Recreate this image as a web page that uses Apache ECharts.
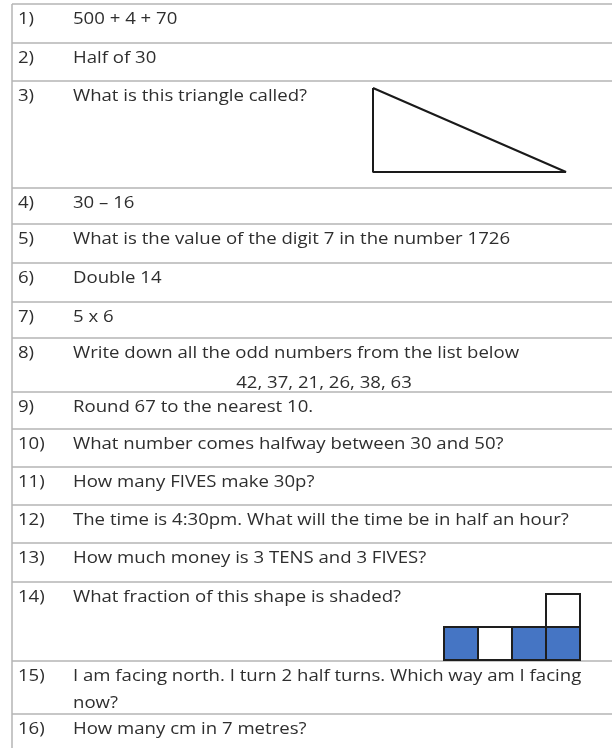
<html>
  <head>
    <meta charset="utf-8">
    <title>Worksheet</title>
    <script src="https://cdn.jsdelivr.net/npm/echarts@6.0.0/dist/echarts.min.js"></script>
    <style>
      html, body { margin: 0; padding: 0; background: #fff; }
      #main { width: 612px; height: 748px; }
    </style>
  </head>
  <body>
    <div id="main"></div>
    <script type="text/javascript">
        // question numbers and texts
        var questionNo = ['1)', '2)', '3)', '4)', '5)', '6)', '7)', '8)',
          '9)', '10)', '11)', '12)', '13)', '14)', '15)', '16)'];
        var questionText = [
          '500 + 4 + 70',
          'Half of 30',
          'What is this triangle called?',
          '30 \u2013 16',
          'What is the value of the digit 7 in the number 1726',
          'Double 14',
          '5 x 6',
          'Write down all the odd numbers from the list below',
          'Round 67 to the nearest 10.',
          'What number comes halfway between 30 and 50?',
          'How many FIVES make 30p?',
          'The time is 4:30pm. What will the time be in half an hour?',
          'How much money is 3 TENS and 3 FIVES?',
          'What fraction of this shape is shaded?',
          'I am facing north. I turn 2 half turns. Which way am I facing',
          'How many cm in 7 metres?'
        ];
        // second lines: [question index, text, centred?]
        var secondLines = [
          [7, '42, 37, 21, 26, 38, 63', true],
          [14, 'now?', false]
        ];
        // y of the row rules (page units)
        var rowEdges = [4, 43, 81, 188, 224, 263, 302, 338, 392, 429, 467, 505, 543, 582, 661, 714, 760];
        // right-angled triangle of question 3
        var triangle = [[373, 88], [373, 172], [566, 172], [373, 88]];
        // shape of question 14: [column, level, shaded]
        var shapeCells = [[0, 0, 1], [1, 0, 0], [2, 0, 1], [3, 0, 1], [3, 1, 0]];

        var FONT = '16px "Open Sans", Lato, sans-serif';
        var TEXT = '#2e2e2e';

        // stretch the type a little so line 5 spans the same width as the scan
        var ctx = document.createElement('canvas').getContext('2d');
        ctx.font = FONT;
        var SX = 437 / ctx.measureText(questionText[4]).width;

        function label(txt, p, align) {
          return {
            type: 'text', x: p[0], y: p[1], scaleX: SX,
            style: { text: txt, x: 0, y: 0, font: FONT, fill: TEXT, align: align || 'left', verticalAlign: 'middle' }
          };
        }

        var chartDom = document.getElementById('main');
        var myChart = echarts.init(chartDom);
        var option;

        option = {
          animation: false,
          grid: { left: 0, right: 0, top: 0, bottom: 0 },
          xAxis: { type: 'value', min: 0, max: 612, show: false },
          yAxis: { type: 'value', min: 0, max: 748, inverse: true, show: false },
          series: [
            {
              // horizontal rules
              type: 'custom',
              data: rowEdges.slice(0, -1),
              renderItem: function (params, api) {
                var y = api.value(0);
                var a = api.coord([12, y]);
                var b = api.coord([612, y]);
                return {
                  type: 'line',
                  shape: { x1: a[0], y1: a[1], x2: b[0], y2: b[1] },
                  style: { stroke: '#b4b4b4', lineWidth: 1.5 }
                };
              }
            },
            {
              // left border
              type: 'line',
              data: [[12, 4], [12, 748]],
              symbol: 'none',
              lineStyle: { color: '#b4b4b4', width: 1.5 }
            },
            {
              // numbers and question texts
              type: 'custom',
              data: questionText.map(function (t, i) { return [i, rowEdges[i]]; }),
              renderItem: function (params, api) {
                var i = api.value(0);
                var top = api.value(1);
                return {
                  type: 'group',
                  children: [
                    label(questionNo[i], api.coord([18, top + 15.5])),
                    label(questionText[i], api.coord([73, top + 15.5]))
                  ]
                };
              }
            },
            {
              // second lines
              type: 'custom',
              data: secondLines.map(function (s) { return [s[0], rowEdges[s[0]]]; }),
              renderItem: function (params, api) {
                var s = secondLines[params.dataIndex];
                var top = api.value(1);
                var p = api.coord([s[2] ? 324 : 73, top + (s[2] ? 45 : 42)]);
                return label(s[1], p, s[2] ? 'center' : 'left');
              }
            },
            {
              // triangle
              type: 'line',
              data: triangle,
              symbol: 'none',
              lineStyle: { color: '#1a1a1a', width: 2 }
            },
            {
              // fraction shape
              type: 'custom',
              data: shapeCells,
              renderItem: function (params, api) {
                var c = api.value(0), l = api.value(1), shaded = api.value(2);
                var p0 = api.coord([444 + c * 34, 627 - l * 33]);
                var p1 = api.coord([444 + (c + 1) * 34, 627 - (l - 1) * 33]);
                return {
                  type: 'rect',
                  shape: { x: p0[0], y: p0[1], width: p1[0] - p0[0], height: p1[1] - p0[1] },
                  style: { fill: shaded ? '#4575c4' : '#ffffff', stroke: '#1e1e1e', lineWidth: 2 }
                };
              }
            }
          ]
        };

        option && myChart.setOption(option);
    </script>
  </body>
</html>
